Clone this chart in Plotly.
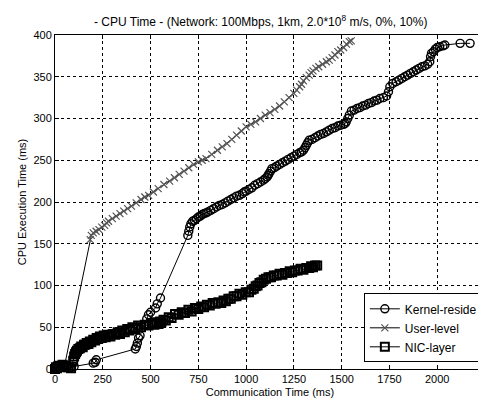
import plotly.graph_objects as go

# Kernel-reside (circles)
kernel_x = [0, 10, 20, 30, 42, 60, 79, 100, 200, 210, 216, 420, 426, 431, 437, 445, 480, 489, 500, 526, 535, 552,
            695, 700, 705, 711, 720, 730, 740, 750, 760, 770, 780, 790, 800, 815, 830, 845, 860, 875, 890, 905,
            920, 935, 950, 965, 980, 990, 1000, 1015, 1030, 1045, 1060, 1075, 1090, 1100, 1110, 1115,
            1120, 1128, 1135, 1148, 1160, 1175, 1190, 1205, 1220, 1235, 1250, 1265, 1280, 1290, 1300, 1308,
            1315, 1322, 1330, 1345, 1360, 1375, 1390, 1405, 1420, 1435, 1450, 1465, 1480, 1495, 1510, 1518,
            1524, 1532, 1540, 1551, 1565, 1580, 1595, 1610, 1625, 1640, 1655, 1670, 1685, 1700, 1718, 1735,
            1745, 1752, 1767, 1785, 1800, 1815, 1830, 1845, 1860, 1875, 1890, 1905, 1920, 1935, 1950,
            1961, 1965, 1970, 1980, 1990, 2000, 2013, 2030, 2040, 2120, 2172]
kernel_y = [0, 2, 1, 3, 4, 3, 1, 3, 7, 8, 11, 24, 27, 31, 37, 40, 60, 65, 68, 73, 78, 85,
            160, 165, 170, 174, 177, 178, 180, 182, 183, 185, 186, 187, 188, 190, 192, 194, 196, 197, 199, 201,
            203, 205, 207, 208, 210, 212, 213, 215, 217, 220, 222, 224, 226, 228, 230, 232,
            234, 237, 240, 241, 243, 245, 247, 249, 251, 253, 255, 257, 259, 260, 262, 265,
            268, 271, 274, 275, 277, 279, 281, 282, 284, 286, 288, 289, 291, 292, 293, 294,
            296, 300, 304, 309, 310, 312, 313, 315, 316, 318, 319, 321, 322, 324, 325, 327,
            332, 338, 342, 344, 346, 348, 350, 352, 354, 356, 358, 360, 362, 363, 365,
            368, 374, 378, 380, 383, 385, 386, 387, 388, 390, 390]

# User-level (x marks)
user_x = [0, 10, 20, 35, 50, 184, 190, 200, 215, 230, 245, 260, 270, 280, 300, 320, 340, 360, 380, 400, 425,
          450, 470, 490, 515, 540, 570, 600, 625, 650, 675, 700, 725, 750, 770, 790, 820, 850, 875, 900, 925,
          950, 975, 1000, 1025, 1050, 1075, 1100, 1125, 1150, 1175, 1200, 1225, 1250, 1265, 1280, 1290, 1300,
          1315, 1330, 1340, 1350, 1365, 1380, 1400, 1420, 1435, 1450, 1465, 1480, 1495, 1510, 1525, 1540, 1550]
user_y = [0, 1, 2, 3, 4, 155, 160, 163, 165, 167, 170, 172, 175, 177, 180, 183, 186, 189, 192, 195, 199,
          203, 206, 208, 212, 216, 221, 225, 229, 233, 237, 241, 245, 248, 250, 252, 257, 262, 266, 270, 275,
          280, 285, 290, 293, 296, 300, 304, 307, 311, 315, 320, 325, 330, 334, 338, 341, 345,
          349, 352, 355, 357, 360, 362, 365, 368, 370, 373, 376, 380, 382, 385, 389, 392, 393]

# NIC-layer (squares)
nic_x = [0, 5, 10, 15, 20, 30, 40, 50, 60, 70, 84, 95, 100, 105, 110, 115, 122, 130, 137, 145, 152, 158, 166,
         175, 182, 190, 200, 210, 218, 226, 235, 245, 255, 265, 278, 290, 302, 315, 328, 340, 352, 365, 378,
         390, 405, 420, 435, 450, 470, 489, 505, 520, 530, 542, 550, 557, 568, 580, 595, 610, 628, 647, 663,
         680, 698, 715, 732, 750, 765, 780, 795, 810, 825, 840, 855, 870, 882, 894, 907, 920, 935, 950, 965,
         980, 998, 1015, 1028, 1040, 1050, 1060, 1070, 1080, 1092, 1104, 1117, 1130, 1145, 1160, 1175, 1190,
         1203, 1215, 1228, 1241, 1255, 1270, 1285, 1300, 1315, 1330, 1340, 1350, 1361, 1372]
nic_y = [0, 2, 1, 3, 4, 2, 5, 3, 4, 2, 1, 10, 15, 18, 20, 22, 24, 25, 27, 26, 29, 29, 31,
         30, 33, 32, 35, 34, 37, 36, 39, 37, 40, 38, 41, 39, 42, 41, 44, 42, 46, 44, 48,
         46, 50, 48, 52, 50, 53, 52, 55, 53, 56, 54, 57, 56, 59, 58, 62, 61, 66, 65, 68,
         67, 71, 69, 73, 72, 75, 74, 77, 76, 79, 78, 80, 79, 82, 81, 84, 84, 87, 87, 90,
         89, 92, 92, 95, 96, 99, 100, 103, 104, 107, 108, 110, 110, 112, 112, 114, 113,
         115, 115, 117, 116, 118, 118, 120, 119, 121, 121, 123, 122, 124, 124]

x_ticks = [0, 250, 500, 750, 1000, 1250, 1500, 1750, 2000, 2250]
y_ticks = [0, 50, 100, 150, 200, 250, 300, 350, 400]

fig = go.Figure()
fig.add_trace(go.Scatter(
    x=kernel_x, y=kernel_y, name="Kernel-reside", mode="lines+markers",
    line=dict(color="black", width=1),
    marker=dict(symbol="circle-open", size=8, color="black", line=dict(width=1.4)),
    cliponaxis=False))
fig.add_trace(go.Scatter(
    x=user_x, y=user_y, name="User-level", mode="lines+markers",
    line=dict(color="black", width=1),
    marker=dict(symbol="x-thin-open", size=7, color="#555555", line=dict(width=1.2, color="#555555")),
    cliponaxis=False))
fig.add_trace(go.Scatter(
    x=nic_x, y=nic_y, name="NIC-layer", mode="lines+markers",
    line=dict(color="black", width=1),
    marker=dict(symbol="square-open", size=8, color="black", line=dict(width=2)),
    cliponaxis=False))

axis_common = dict(
    showline=True, linecolor="black", linewidth=1, mirror="ticks",
    ticks="inside", ticklen=4, tickcolor="black",
    showgrid=True, gridcolor="black", gridwidth=1, griddash="3px,3px",
    zeroline=False, tickfont=dict(size=11, color="black"),
)

fig.update_layout(
    width=486, height=401,
    margin=dict(l=47, r=9, t=27, b=40),
    paper_bgcolor="white", plot_bgcolor="white",
    font=dict(family="Arial, Liberation Sans, sans-serif", color="black", size=11),
    title=dict(text=" - CPU Time - (Network: 100Mbps, 1km, 2.0*10<sup>8</sup> m/s, 0%, 10%)",
               x=0.52, xanchor="center", y=0.975, yanchor="top", font=dict(size=12)),
    xaxis=dict(range=[0, 2250], tickvals=x_ticks, ticktext=[str(v) for v in x_ticks],
               title=dict(text="Communication Time (ms)", standoff=4, font=dict(size=11)), **axis_common),
    yaxis=dict(range=[0, 400], tickvals=y_ticks, ticktext=[str(v) for v in y_ticks],
               title=dict(text="CPU Execution Time (ms)", standoff=4, font=dict(size=11)), **axis_common),
    legend=dict(x=0.995, xanchor="right", y=0.02, yanchor="bottom",
                bgcolor="white", bordercolor="black", borderwidth=1,
                font=dict(size=12), tracegroupgap=0, itemwidth=30),
    showlegend=True,
)

fig.write_html("out.html")
